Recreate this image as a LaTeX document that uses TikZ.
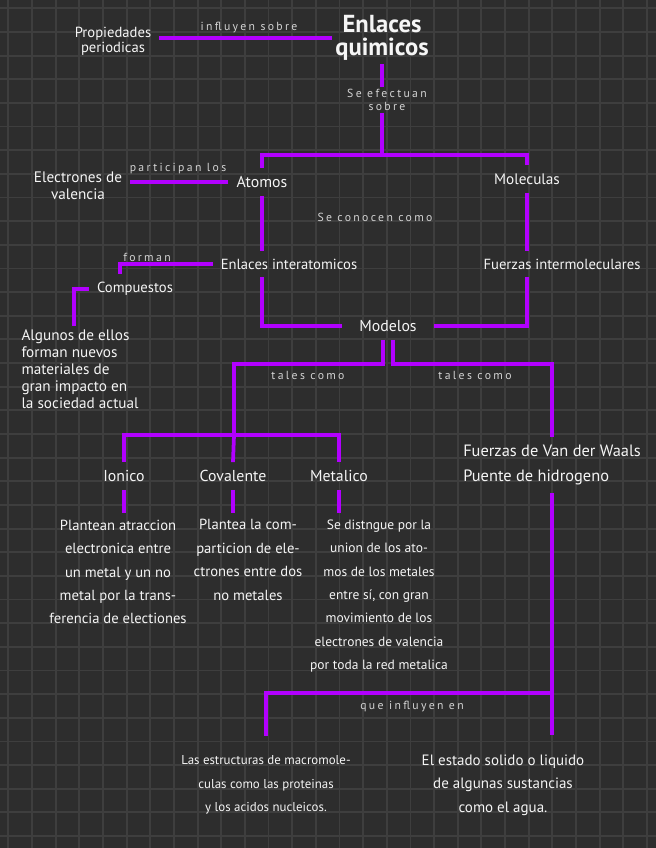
\documentclass[tikz,border=0pt]{standalone}
\usepackage{fontspec}
\setmainfont{PT Sans}
\newfontfamily\nexofont[LetterSpace=20]{PT Sans}
\definecolor{fondo}{RGB}{45,45,45}
\definecolor{rejilla}{RGB}{62,62,62}
\definecolor{conexion}{RGB}{178,0,255}
\definecolor{tinta}{RGB}{245,245,245}
\definecolor{tenue}{RGB}{212,212,212}
\tikzset{
  link/.style={draw=conexion, line width=3.2pt},
  concepto/.style={text=tinta, inner sep=3pt, outer sep=4pt, font=\fontsize{13.5}{15}\selectfont},
  concepto chico/.style={concepto, font=\fontsize{12.5}{15}\selectfont},
  nexo/.style={text=tenue, inner sep=1.5pt, align=center, font=\nexofont\fontsize{10}{11}\selectfont},
  parrafo/.style={text=tinta, inner sep=3pt, outer sep=3pt, align=center, font=\fontsize{12.5}{20}\selectfont},
}

\begin{document}
\begin{tikzpicture}[x=0.03cm, y=-0.03cm]
  % fondo y cuadricula
  \fill[fondo] (0,0) rectangle (656,848);
  \useasboundingbox (0,0) rectangle (656,848);
  \foreach \k in {0,...,27} \draw[rejilla, line width=1.6pt] (8.4+23.65*\k,0) -- ++(0,848);
  \foreach \k in {0,...,35} \draw[rejilla, line width=1.6pt] (0,8.3+23.65*\k) -- ++(656,0);

  % conceptos
  \node[concepto, align=center, outer sep=0pt, font=\bfseries\fontsize{21}{20}\selectfont] (titulo) at (382,38) {Enlaces\\quimicos};
  \node[concepto, align=center, font=\fontsize{12.5}{12.5}\selectfont] (prop) at (113,41) {Propiedades\\periodicas};
  \node[nexo] (efect) at (387,100) {Se efectuan\\sobre};
  \coordinate (j1) at (382,155);
  \node[concepto] (atomos) at (262,182) {Atomos};
  \node[concepto, font=\fontsize{13}{15}\selectfont] (molec) at (527,179) {Moleculas};
  \node[concepto, align=center, font=\fontsize{13}{14.5}\selectfont] (elec) at (78,186) {Electrones de\\valencia};
  \node[concepto chico] (interat) at (289,264) {Enlaces interatomicos};
  \node[concepto chico] (fuerzas) at (562,264) {Fuerzas intermoleculares};
  \node[concepto chico] (compu) at (135,289) {Compuestos};
  \node[concepto, align=left, anchor=north west, outer sep=0pt, font=\fontsize{13}{14.5}\selectfont] (algunos) at (18,326)
    {Algunos de ellos\\forman nuevos\\materiales de\\gran impacto en\\la sociedad actual};
  \node[concepto, inner xsep=11pt] (modelos) at (388,326) {Modelos};
  \coordinate (j2) at (234,435);
  \node[concepto] (ionico) at (124,476) {Ionico};
  \node[concepto] (cova) at (233,476) {Covalente};
  \node[concepto] (metal) at (339,476) {Metalico};
  \node[concepto, align=left, font=\fontsize{14}{21}\selectfont] (vdw) at (552,465) {Fuerzas de Van der Waals\\Puente de hidrogeno};
  \node[parrafo] (ionicd) at (118,572) {Plantean atraccion\\electronica entre\\un metal y un no\\metal por la trans-\\ferencia de electiones};
  \node[parrafo] (covad) at (248,560) {Plantea la com-\\particion de ele-\\ctrones entre dos\\no metales};
  \node[parrafo, font=\fontsize{11.5}{20}\selectfont] (metald) at (379,596) {Se distngue por la\\union de los ato-\\mos de los metales\\entre sí, con gran\\movimiento de los\\electrones de valencia\\por toda la red metalica};
  \coordinate (j3) at (552,693);
  \node[parrafo, font=\fontsize{11}{20}\selectfont] (macro) at (266,785) {Las estructuras de macromole-\\culas como las proteinas\\y los acidos nucleicos.};
  \node[parrafo, font=\fontsize{12.8}{20}\selectfont] (estado) at (503,785) {El estado solido o liquido\\de algunas sustancias\\como el agua.};

  % textos de enlace
  \node[nexo] (n-influyen) at (249,28) {influyen sobre};
  \node[nexo] (n-participan) at (178,169) {participan los};
  \node[nexo] (n-conocen) at (375,217) {Se conocen como};
  \node[nexo] (n-forman) at (147,257) {forman};
  \node[nexo] (n-tales1) at (308,375) {tales como};
  \node[nexo] (n-tales2) at (475,375) {tales como};
  \node[nexo] (n-queinf) at (412,707) {que influyen en};

  % conectores
  \draw[link] (titulo.west -| prop.east) -- (titulo.west);
  \draw[link] (titulo.south) -- (titulo.south |- efect.north);
  \draw[link] (titulo.south |- efect.south) -- (j1);
  \draw[link] (atomos.north) |- (j1) -| (molec.north);
  \draw[link] (atomos.west) -- (atomos.west -| elec.east);
  \draw[link] (atomos.south) -- (atomos.south |- interat.north);
  \draw[link] (molec.south) -- (molec.south |- fuerzas.north);
  \draw[link] (interat.west) -| ([xshift=-13pt]compu.north);
  \draw[link] (compu.west) -| ([xshift=48pt]algunos.north west);
  \draw[link] (interat.south -| atomos.south) |- (modelos.west);
  \draw[link] (modelos.east) -| (fuerzas.south -| molec.south);
  \draw[link] ([xshift=-4pt]modelos.south) -- ++(0,24) -| (j2);
  \draw[link] ([xshift=4pt]modelos.south) -- ++(0,24) -| (vdw.north);
  \draw[link] (ionico.north) |- (j2) -| (metal.north);
  \draw[link] (j2) -- (cova.north);
  \draw[link] (ionico.south) -- (ionico.south |- ionicd.north);
  \draw[link] (cova.south) -- (cova.south |- covad.north);
  \draw[link] (metal.south) -- (metal.south |- metald.north);
  \draw[link, shorten >=11pt] (vdw.south) -- (vdw.south |- estado.north);
  \draw[link, shorten >=11pt] (j3) -| (macro.north);
\end{tikzpicture}
\end{document}
